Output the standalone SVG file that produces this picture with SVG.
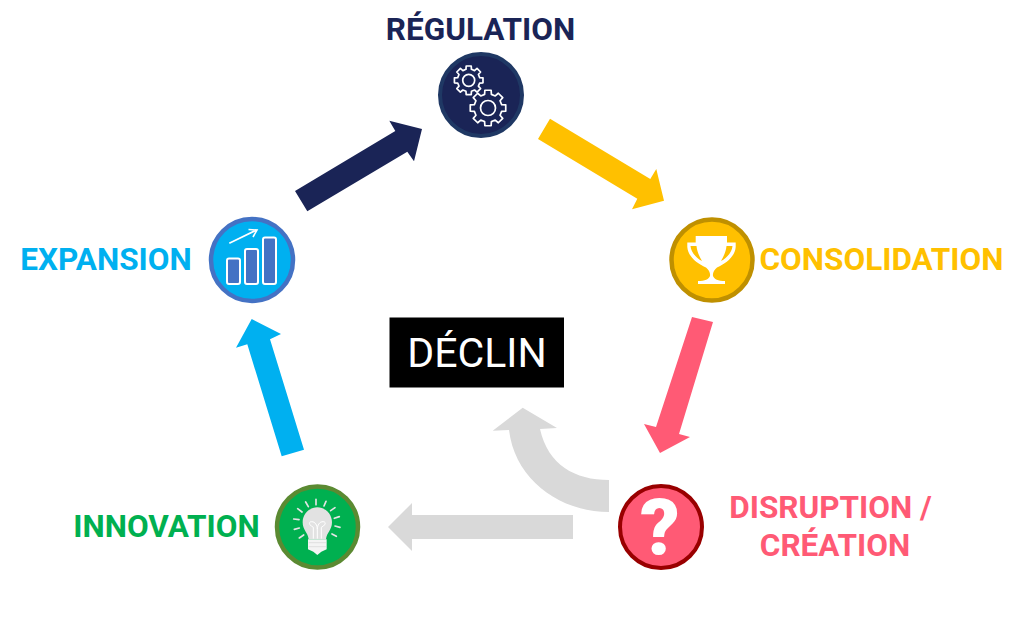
<svg xmlns="http://www.w3.org/2000/svg" xmlns:xlink="http://www.w3.org/1999/xlink" width="1024" height="627" viewBox="0 0 1024 627">
<style>
.lbl{font-family:Roboto,"Liberation Sans",sans-serif;font-weight:700;font-size:31.5px;text-anchor:middle}
.gear{fill:none;stroke:#fff;stroke-width:1.7;vector-effect:non-scaling-stroke;stroke-linejoin:round}
.ray{stroke:#e4e4e4;stroke-width:5;stroke-linecap:round}
.bar{fill:#4472c4;stroke:#fff;stroke-width:2;}
</style>
<defs>
<path id="gearShape" class="gear" d="M75.7,-18.9L98.5,-17.4L98.5,17.4L75.7,18.9L66.9,40.2L81.9,57.4L57.4,81.9L40.2,66.9L18.9,75.7L17.4,98.5L-17.4,98.5L-18.9,75.7L-40.2,66.9L-57.4,81.9L-81.9,57.4L-66.9,40.2L-75.7,18.9L-98.5,17.4L-98.5,-17.4L-75.7,-18.9L-66.9,-40.2L-81.9,-57.4L-57.4,-81.9L-40.2,-66.9L-18.9,-75.7L-17.4,-98.5L17.4,-98.5L18.9,-75.7L40.2,-66.9L57.4,-81.9L81.9,-57.4L66.9,-40.2Z"/>
</defs>
<rect width="1024" height="627" fill="#fff"/>
<g id="connectors">
<polygon fill="#1a2456" points="295,191 307.3,211.3 407.3,151.7 414,161.3 422,129 389.3,120.7 395.3,131"/>
<polygon fill="#ffc000" points="550,118.7 538,139 637.3,198.7 632,209.3 664,200.7 656.3,169 650.3,179"/>
<polygon fill="#ff5a75" points="692,317 713,322 679,434 690,437 660,453 644,424 656,427"/>
<polygon fill="#00b0f0" points="281.7,456.3 304,449.7 270,339.3 281,334 251.7,319 236,347.7 247.3,344.3"/>
<polygon fill="#d9d9d9" points="573,515 573,539 412,539 412,551 388,527 412,503 412,515"/>
<path fill="#d9d9d9" d="M609,480C575,480 548,465 540,429L557,428L522.7,407.7L492.7,430.7L509,430C515,480 560,512 609,512Z"/>
</g>
<g id="regulation">
<circle cx="481" cy="95" r="41" fill="#1a2456" stroke="#1f3864" stroke-width="4"/>
<use xlink:href="#gearShape" href="#gearShape" transform="translate(468.7,80.3) scale(.145)"/>
<circle class="gear" cx="468.7" cy="80.3" r="6"/>
<use xlink:href="#gearShape" href="#gearShape" transform="translate(488,108) scale(.18)"/>
<circle class="gear" cx="488" cy="108" r="7.5"/>
<text class="lbl" x="480.5" y="40" fill="#1a2456">RÉGULATION</text>
</g>
<g id="consolidation">
<circle cx="712" cy="260" r="40.5" fill="#ffc000" stroke="#bf9000" stroke-width="4.5"/>
<path fill="#fff" d="M695.7,236H727V242.5H735.7V247C735,256 727,263 717,267.5C714,270 712.5,273 713,276C714,279 718,281 725,281V284H698V281C705,281 709,279 710,276C710.5,273 709,270 706,267.5C696,263 688,256 687.3,247V242.5H695.7ZM690.5,246C691,252 696,258 702,261C699,256 697,251 696.5,246ZM732.5,246H726.5C726,251 724,256 721,261C727,258 732,252 732.5,246Z" fill-rule="evenodd"/>
<text class="lbl" x="881.5" y="270" fill="#ffc000">CONSOLIDATION</text>
</g>
<g id="disruption">
<circle cx="661" cy="527" r="41" fill="#ff5a75" stroke="#990000" stroke-width="4"/>
<text x="660" y="555" font-family="Roboto,'Liberation Sans',sans-serif" font-weight="900" font-size="78" text-anchor="middle" fill="#fff">?</text>
<text class="lbl" x="830.5" y="518" fill="#ff5a75">DISRUPTION /</text>
<text class="lbl" x="835" y="556" fill="#ff5a75">CRÉATION</text>
</g>
<g id="innovation">
<circle cx="317.5" cy="527" r="40.5" fill="#00b050" stroke="#5b8a32" stroke-width="4.5"/>
<g transform="translate(260,470) scale(.3333)">
<path class="ray" d="M168,88V104M198,94L192,108M225,113L212,122M238,140L223,145M240,172L225,168M229,199L216,192M137,96L145,110M113,116L126,126M101,147L117,149M103,178L118,174M118,204L131,195"/>
<path fill="#e2e2e2" d="M172,112C148,112 128,132 128,157C128,180 144,188 146,208H198C200,188 216,180 216,157C216,132 196,112 172,112Z"/>
<path fill="#f4f4f4" d="M144,208H200V238L184,245L172,255L160,245L144,238Z"/>
<path fill="none" stroke="#fff" stroke-width="3" d="M160,206V172C146,165 145,155 155,155C165,155 172,165 172,178C172,165 179,155 189,155C199,155 198,165 184,172V206M172,178V206"/>
<path fill="none" stroke="#d6d6d6" stroke-width="2" d="M146,218H198M146,230H198"/>
</g>
<text class="lbl" x="166.5" y="537" fill="#00b050">INNOVATION</text>
</g>
<g id="expansion">
<circle cx="252" cy="260" r="41" fill="#00b0f0" stroke="#4472c4" stroke-width="4.5"/>
<rect class="bar" x="227" y="258.5" width="13" height="25.5" rx="2"/>
<rect class="bar" x="245" y="249" width="13" height="35" rx="2"/>
<rect class="bar" x="263" y="237.5" width="13" height="46.5" rx="2"/>
<path fill="none" stroke="#fff" stroke-width="1.6" d="M229.3,243.3L256.5,230M248.5,229.5L257,230L253,237"/>
<text class="lbl" x="106" y="270" fill="#00b0f0">EXPANSION</text>
</g>
<g id="declin">
<rect x="389.5" y="317.5" width="174.5" height="70" fill="#000"/>
<text x="477" y="367" font-family="Roboto,'Liberation Sans',sans-serif" font-size="41" text-anchor="middle" fill="#fff">DÉCLIN</text>
</g>
</svg>
